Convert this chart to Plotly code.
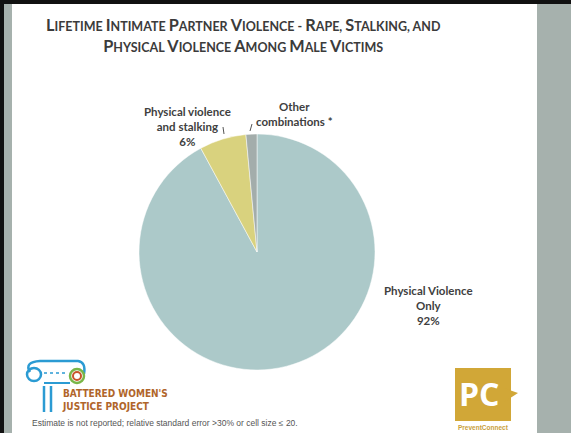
import plotly.graph_objects as go

W, H = 571, 433

labels = ["Physical Violence Only", "Physical violence and stalking", "Other combinations *"]
values = [92.1, 6.4, 1.5]
colors = ["#ACC9C9", "#D9D27E", "#A3ADAB"]
title_lines = ["Lifetime Intimate Partner Violence - Rape, Stalking, and",
               "Physical Violence Among Male Victims"]
footnote = "Estimate is not reported; relative standard error >30% or cell size \u2264 20."


def px(x):
    return x / W


def py(y):
    return 1 - y / H


def small_caps(s, small=12.5):
    out = ""
    run = ""
    run_small = None
    for ch in s:
        is_small = ch.islower()
        if run_small is None or is_small == run_small or not ch.isalpha():
            if run_small is None and ch.isalpha():
                run_small = is_small
            run += ch
        else:
            out += ("<span style='font-size:%.1fpx'>%s</span>" % (small, run.upper())) if run_small else run
            run = ch
            run_small = is_small
    if run:
        out += ("<span style='font-size:%.1fpx'>%s</span>" % (small, run.upper())) if run_small else run
    return out


fig = go.Figure()
fig.add_trace(go.Pie(
    labels=labels, values=values, sort=False, direction="clockwise", rotation=0,
    marker=dict(colors=colors, line=dict(color="white", width=0.5)),
    textinfo="none", hoverinfo="label+percent", showlegend=False,
    domain=dict(x=[px(139), px(375)], y=[py(370), py(134)]),
))

shapes = [
    # frame
    dict(type="rect", x0=0, x1=px(4), y0=0, y1=1, fillcolor="#111111", line=dict(width=0)),
    dict(type="rect", x0=px(4), x1=px(12), y0=0, y1=py(4), fillcolor="#A6B1AD", line=dict(width=0)),
    dict(type="rect", x0=px(537), x1=1, y0=0, y1=py(4), fillcolor="#A6B1AD", line=dict(width=0)),
    dict(type="rect", x0=0, x1=1, y0=py(4), y1=1, fillcolor="#111111", line=dict(width=0)),
    # leader lines
    dict(type="line", x0=px(223), y0=py(127), x1=px(224), y1=py(134), line=dict(color="#555", width=1)),
    dict(type="line", x0=px(252), y0=py(124), x1=px(250), y1=py(131), line=dict(color="#555", width=1)),
    # PC logo
    dict(type="rect", x0=px(455), x1=px(511), y0=py(421), y1=py(368), fillcolor="#D1A737", line=dict(width=0)),
    dict(type="path", path="M %f %f L %f %f L %f %f Z" % (px(504), py(388), px(518), py(393), px(504), py(402)),
         fillcolor="#D1A737", line=dict(width=0)),
    # BWJP column logo (simplified)
    dict(type="path",
         path="M %f %f Q %f %f %f %f L %f %f Q %f %f %f %f" % (
             px(30), py(372), px(24), py(362), px(40), py(361), px(78), py(361), px(86), py(362), px(84), py(374)),
         line=dict(color="#2B9BD3", width=2.5)),
    dict(type="circle", x0=px(27), x1=px(41), y0=py(381), y1=py(368), line=dict(color="#2B9BD3", width=2.5)),
    dict(type="circle", x0=px(70), x1=px(84), y0=py(383), y1=py(369), line=dict(color="#7AB648", width=2.5)),
    dict(type="circle", x0=px(73), x1=px(81), y0=py(380), y1=py(372), line=dict(color="#C8552B", width=2)),
    dict(type="line", x0=px(44), y0=py(383), x1=px(70), y1=py(383), line=dict(color="#2B9BD3", width=2)),
    dict(type="line", x0=px(44), y0=py(373), x1=px(68), y1=py(373), line=dict(color="#2B9BD3", width=1.5, dash="dot")),
    dict(type="line", x0=px(44), y0=py(386), x1=px(44), y1=py(412), line=dict(color="#2B9BD3", width=2.5)),
    dict(type="line", x0=px(51), y0=py(386), x1=px(51), y1=py(412), line=dict(color="#2B9BD3", width=2.5)),
]

lab_font = dict(family="Lato, 'Open Sans', sans-serif", size=11.5, color="#404040")
annotations = [
    dict(x=px(243), y=py(35), text="<b>" + small_caps(title_lines[0]) + "<br>" + small_caps(title_lines[1]) + "</b>",
         showarrow=False, xanchor="center", yanchor="middle",
         font=dict(family="Lato, 'Open Sans', sans-serif", size=16.3, color="#3B3B3B"),
         align="center"),
    dict(x=px(188), y=py(126), text="<b>Physical violence<br>and stalking<br>%d%%</b>" % round(values[1]),
         showarrow=False, font=lab_font, align="center", xanchor="center", yanchor="middle"),
    dict(x=px(294), y=py(114), text="<b>Other<br>combinations *</b>",
         showarrow=False, font=lab_font, align="center", xanchor="center", yanchor="middle"),
    dict(x=px(428), y=py(305), text="<b>Physical Violence<br>Only<br>%d%%</b>" % round(values[0]),
         showarrow=False, font=lab_font, align="center", xanchor="center", yanchor="middle"),
    dict(x=px(30), y=py(423), text=footnote, showarrow=False, xanchor="left", yanchor="middle",
         font=dict(family="Liberation Sans, Arial, sans-serif", size=8.5, color="#555555")),
    dict(x=px(60), y=py(400), text="<b>BATTERED WOMEN'S<br>JUSTICE PROJECT</b>", showarrow=False,
         xanchor="left", yanchor="middle", align="left",
         font=dict(family="'Liberation Sans Narrow', 'DejaVu Sans Condensed', sans-serif", size=10, color="#B0652A")),
    dict(x=px(479), y=py(393), text="<b>PC</b>", showarrow=False, xanchor="center", yanchor="middle",
         font=dict(family="'Open Sans', sans-serif", size=32, color="white")),
    dict(x=px(483), y=py(427), text="<b>PreventConnect</b>", showarrow=False, xanchor="center", yanchor="middle",
         font=dict(family="'Liberation Sans', sans-serif", size=6.5, color="#C9A03A")),
]

fig.update_layout(
    width=W, height=H, margin=dict(l=0, r=0, t=0, b=0),
    paper_bgcolor="white", plot_bgcolor="white",
    shapes=shapes, annotations=annotations,
)
fig.write_html("out.html", config={"displayModeBar": False},
               post_script="document.body.style.margin='0';document.body.style.overflow='hidden';")
